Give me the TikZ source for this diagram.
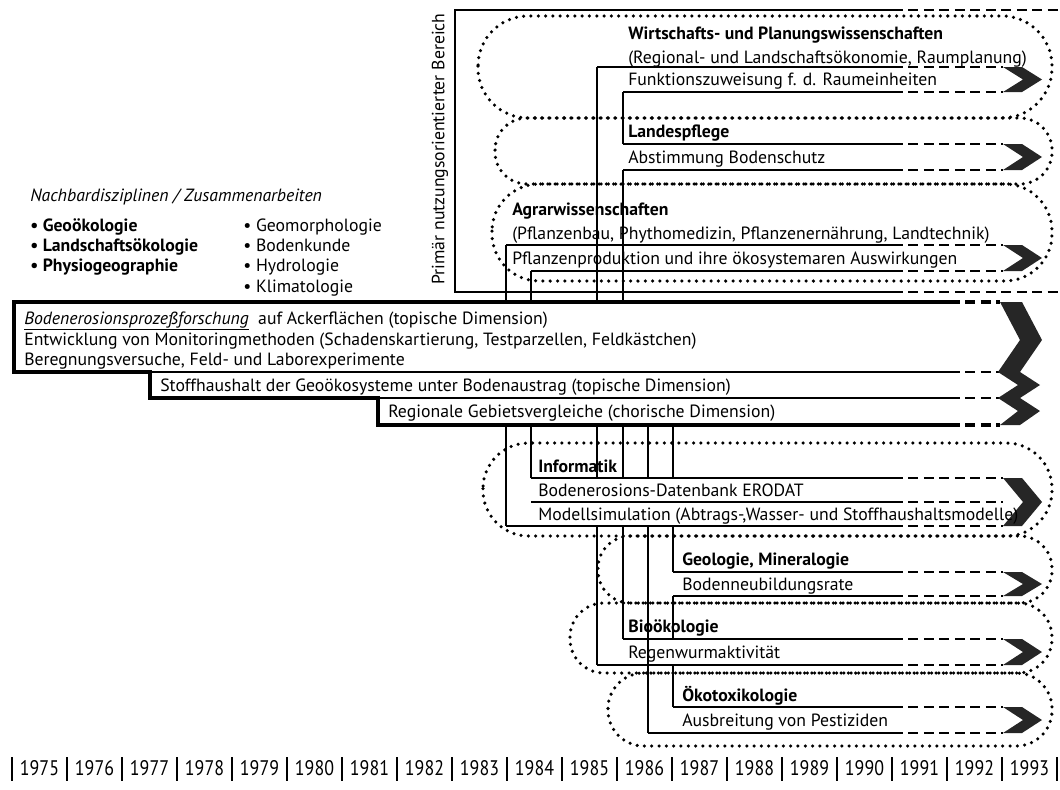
\documentclass[tikz,border=0pt]{standalone}
\usepackage{fontspec}
\setmainfont{PT Sans}
\usetikzlibrary{calc}

\newcommand{\rowln}[2]{\draw[thin] (#1,#2) -- (893,#2); \draw[dsh] (893,#2) -- (1003,#2);}
\newcommand{\chevr}[2]{\fill[chev] (1003,#1) -- (1022,#1) -- (1042,{(#1+#2)/2}) -- (1022,#2) -- (1003,#2) -- (1023,{(#1+#2)/2}) -- cycle;}
\newcommand{\stad}[5]{\draw[dots, rounded corners=#5] (#1,#2) rectangle (#3,#4);}

\begin{document}
\begin{tikzpicture}[x=0.025cm, y=-0.025cm]
\tikzset{
  lab/.style={anchor=base west, inner sep=0pt, font=\fontsize{12.6}{14}\selectfont},
  tit/.style={lab, font=\fontsize{12.6}{14}\selectfont\bfseries},
  thin/.style={line width=0.8pt},
  fat/.style={line width=2.2pt},
  dsh/.style={line width=0.8pt, dash pattern=on 7pt off 4pt},
  fatdsh/.style={line width=2.2pt, dash pattern=on 7pt off 4pt},
  dots/.style={line width=2.5pt, line cap=round, dash pattern=on 0pt off 5.2pt},
  chev/.style={fill=black!85},
  yr/.style={anchor=base, inner sep=0pt, font=\fontsize{15}{16}\selectfont},
}
\useasboundingbox (0,0) rectangle (1060,790);

\stad{478}{16}{1052}{118}{1.25cm}
\stad{495}{118}{1052}{184}{0.8cm}
\stad{492}{184}{1052}{281}{1.18cm}
\stad{483}{443}{1052}{536}{1.14cm}
\stad{598}{536}{1052}{603}{0.81cm}
\stad{570}{603}{1052}{673}{0.85cm}
\stad{608}{673}{1052}{746}{0.89cm}

\draw[thin] (893,10) -- (455,10) -- (455,292) -- (893,292);
\draw[dsh] (893,10) -- (1060,10);
\draw[dsh] (893,292) -- (1060,292);
\node[rotate=90, inner sep=0pt, font=\fontsize{12.6}{14}\selectfont] (prim) at (440,149) {Primär nutzungsorientierter Bereich};

\draw[thin] (506,302) -- (506,245);
\draw[thin] (531,302) -- (531,271);
\draw[thin] (597,302) -- (597,67);
\draw[thin] (623,302) -- (623,170);
\draw[thin] (623,144) -- (623,92);
\rowln{597}{67} \rowln{623}{92} \rowln{623}{144} \rowln{623}{170}
\rowln{506}{245} \rowln{531}{271}
\chevr{67}{92} \chevr{144}{170} \chevr{245}{271}

\node[tit] (wirt) at (628,39) {Wirtschafts- und Planungswissenschaften};
\node[lab] (regio) at (628,63) {(Regional- und Landschaftsökonomie, Raumplanung)};
\node[lab] (funk) at (628,85) {Funktionszuweisung f. d. Raumeinheiten};
\node[tit] (land) at (628,137) {Landespflege};
\node[lab] (abst) at (628,163) {Abstimmung Bodenschutz};
\node[tit] (agrar) at (512,215) {Agrarwissenschaften};
\node[lab] (pfbau) at (512,239) {(Pflanzenbau, Phythomedizin, Pflanzenernährung, Landtechnik)};
\node[lab] (pfprod) at (512,264) {Pflanzenproduktion und ihre ökosystemaren Auswirkungen};

\node[lab, font=\fontsize{12.6}{14}\selectfont\itshape] (nach) at (30,201) {Nachbardisziplinen / Zusammenarbeiten};
\node[tit] (geooek) at (30,231) {• Geoökologie};
\node[tit] (lsoek) at (30,251) {• Landschaftsökologie};
\node[tit] (physio) at (30,271) {• Physiogeographie};
\node[lab] (geomorph) at (243,231) {• Geomorphologie};
\node[lab] (boku) at (243,251) {• Bodenkunde};
\node[lab] (hydro) at (243,271) {• Hydrologie};
\node[lab] (klima) at (243,292) {• Klimatologie};

\draw[fat] (950,302) -- (14,302) -- (14,372) -- (150,372) -- (150,398) -- (378,398) -- (378,425) -- (950,425);
\draw[fatdsh] (950,302) -- (1000,302);
\draw[fatdsh] (950,425) -- (1000,425);
\draw[thin] (150,372) -- (950,372);
\draw[thin] (378,398) -- (950,398);
\draw[dsh] (950,372) -- (1000,372);
\draw[dsh] (950,398) -- (1000,398);
\fill[chev] (1000,302) -- (1022,302) -- (1042,340) -- (1020,372) -- (1040,385) -- (1020,398) -- (1040,411)
  -- (1020,425) -- (1000,425) -- (1018,411) -- (998,398) -- (1018,385) -- (998,372) -- (1020,340) -- cycle;

\node[lab] (bep) at (24,324) {\underline{\itshape Bodenerosionsprozeßforschung}~ auf Ackerflächen (topische Dimension)};
\node[lab] (mon) at (24,345) {Entwicklung von Monitoringmethoden (Schadenskartierung, Testparzellen, Feldkästchen)};
\node[lab] (bereg) at (24,365) {Beregnungsversuche, Feld- und Laborexperimente};
\node[lab] (stoff) at (160,391) {Stoffhaushalt der Geoökosysteme unter Bodenaustrag (topische Dimension)};
\node[lab] (regv) at (388,417) {Regionale Gebietsvergleiche (chorische Dimension)};

\foreach \x in {597,623,648,673} \draw[thin] (\x,425) -- (\x,478);
\draw[thin] (506,425) -- (506,526);
\draw[thin] (531,425) -- (531,478);
\draw[thin] (597,526) -- (597,665);
\draw[thin] (623,526) -- (623,639);
\draw[thin] (648,526) -- (648,733);
\draw[thin] (673,526) -- (673,572);
\draw[thin] (673,596) -- (673,639);
\draw[thin] (673,665) -- (673,707);
\rowln{531}{478} \rowln{531}{502} \rowln{506}{526}
\rowln{673}{572} \rowln{673}{596}
\rowln{623}{639} \rowln{597}{665}
\rowln{673}{707} \rowln{648}{733}
\chevr{478}{526} \chevr{572}{596} \chevr{639}{665} \chevr{707}{733}

\node[tit] (info) at (538,472) {Informatik};
\node[lab] (erodat) at (538,496) {Bodenerosions-Datenbank ERODAT};
\node[lab] (modell) at (538,520) {Modellsimulation (Abtrags-,Wasser- und Stoffhaushaltsmodelle)};
\node[tit] (geol) at (682,565) {Geologie, Mineralogie};
\node[lab] (neub) at (682,590) {Bodenneubildungsrate};
\node[tit] (bio) at (628,632) {Bioökologie};
\node[lab] (regen) at (628,658) {Regenwurmaktivität};
\node[tit] (oeko) at (682,701) {Ökotoxikologie};
\node[lab] (pest) at (682,726) {Ausbreitung von Pestiziden};

\foreach \i in {0,...,19} \draw[thin] ({12+55*\i},757) -- ({12+55*\i},781);
\foreach \i in {0,...,18} {
  \pgfmathtruncatemacro{\yy}{1975+\i}
  \node[yr] (y\yy) at ({39.5+55*\i},775) {\scalebox{0.85}[1]{\yy}};
}
\end{tikzpicture}
\end{document}
